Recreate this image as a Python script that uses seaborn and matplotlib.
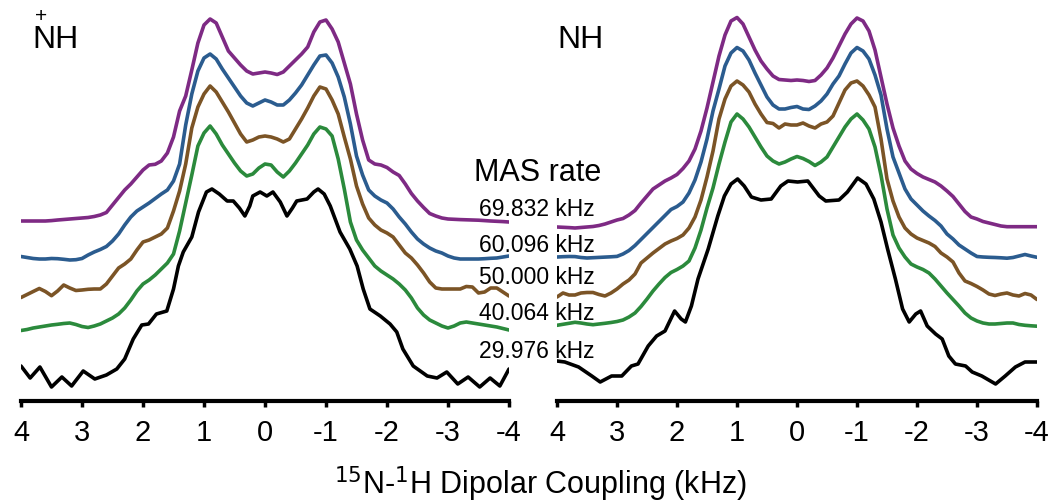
import numpy as np
import pandas as pd
import matplotlib
matplotlib.use("Agg")
import matplotlib.pyplot as plt
import seaborn as sns

# ---------------- data ----------------
# shared frequency grid (kHz) for the smooth traces
x_grid = [round(4 - 0.1 * i, 1) for i in range(81)]

rates = ["69.832 kHz", "60.096 kHz", "50.000 kHz", "40.064 kHz", "29.976 kHz"]
trace_names = ["purple", "blue", "brown", "green", "black"]

# NH+ (left panel) intensities (arbitrary units, relative to each trace baseline)
left_purple = [0, 0, 0, 0, 0, 0.4, 1, 1.5, 2, 2.5,
               3, 3.5, 4.5, 6, 8.5, 16, 23.5, 31, 37, 44,
               51, 56, 56.7, 60, 68, 84, 110, 125, 151, 178,
               196, 202, 198, 184, 170, 163, 156, 150, 147, 148,
               149, 148, 146.5, 149, 155, 161, 167, 174, 189, 199,
               201, 192, 179, 158, 137, 107, 81, 61, 57, 56,
               53.5, 49, 45.5, 37, 27.5, 20, 13.5, 7.5, 5, 3,
               2, 1.7, 1.4, 1.2, 1, 0.8, 0.4, 0, -0.3, -0.6,
               -1]
left_blue = [0.5, -0.5, -1.5, -2, -2, -1.5, -1.7, -2.3, -3, -2.7,
             -1.5, 2, 5, 7.5, 10.5, 16, 23, 32, 40, 46,
             50, 54, 58.5, 63, 67, 76, 93, 132, 163, 186,
             199, 203, 198, 188, 179, 170, 161, 154, 151, 154,
             157, 155, 152, 152, 157, 164, 172, 182, 192, 201,
             202, 194, 180, 160, 133, 101, 82, 67, 61, 57,
             54, 48, 40, 33, 25, 18, 13, 9, 6, 4,
             1, -1, -2, -2, -2, -2, -1.7, -1.3, -1, 0,
             1]
left_brown = [-1.5, 1.5, 4.5, 7.5, 4.5, 0.3, 5, 11, 8, 5.5,
              6, 6.7, 7, 7, 12, 20, 28, 32, 37, 46,
              54, 56, 59, 62, 68, 85, 105, 132, 168, 189,
              202, 210, 204, 194, 184, 173, 162, 154, 156, 159,
              160, 159, 157, 154, 157, 167, 177, 188, 200, 209,
              207, 196, 182, 159, 137, 110, 92, 78, 71, 66,
              63, 59, 51, 43, 38, 31, 23, 14, 8, 7,
              7, 7, 7, 9.5, 9, 3, 4, 8, 8, 4,
              0]
left_green = [-0.5, 0.5, 2, 3, 4, 5, 5.7, 6.5, 7, 5.5,
              3.5, 2.5, 4, 6, 9, 12, 16, 22, 30, 39,
              46, 50, 55, 61, 67, 76, 99, 127, 155, 184,
              197, 204, 196, 185, 176, 167, 159, 154, 156, 162,
              166, 165, 158, 153, 159, 167, 176, 185, 196, 203,
              201, 194, 171, 141, 108, 90, 80, 72, 64, 59,
              55, 51, 46, 40, 32, 22, 15, 10, 7, 4,
              2, 4, 7, 8, 7, 6, 5, 4, 3, 1.5,
              0]
left_black_x = [4.0, 3.85, 3.69, 3.5, 3.33, 3.17, 2.98, 2.79, 2.6, 2.43,
                2.3, 2.16, 2.02, 1.91, 1.78, 1.61, 1.5, 1.42, 1.34, 1.2,
                1.09, 0.96, 0.87, 0.75, 0.62, 0.52, 0.42, 0.33, 0.25, 0.2,
                0.08, -0.03, -0.13, -0.25, -0.36, -0.45, -0.52, -0.69, -0.8, -0.87,
                -0.97, -1.07, -1.23, -1.39, -1.51, -1.61, -1.72, -1.89, -2.05, -2.16,
                -2.26, -2.43, -2.66, -2.82, -2.98, -3.16, -3.33, -3.52, -3.69, -3.85,
                -4.0]
left_black_y = [8, -4, 7, -13, -3, -12, 3, -5, -1, 5,
                15, 35, 49, 50, 60, 63, 85, 108, 122, 137,
                162, 182, 185, 180, 173, 173, 166, 158, 168, 178,
                182, 178, 182, 172, 158, 166, 173, 175, 182, 185,
                180, 168, 142, 125, 108, 85, 65, 58, 50, 42,
                25, 8, -2, -4, 2, -10, -3, -13, -4, -12,
                5]

# NH (right panel)
right_purple = [0, -0.3, -0.6, -1, -0.5, 0, 0.5, 1.5, 3, 5,
                7, 8.5, 12, 16.5, 24, 31, 38, 42, 46, 49,
                52.5, 58.5, 66, 78, 96, 119, 145, 171, 192, 206,
                209.5, 203, 190, 177, 166, 158, 151, 147.5, 147, 146.5,
                147, 146.5, 145.5, 146.5, 152, 159, 169, 181, 193, 203,
                209, 206, 196, 177, 150, 123, 99, 81, 66, 58,
                53.5, 50, 47.5, 45, 41, 36, 30.5, 23, 15.5, 10,
                8, 5.5, 4, 2.5, 1, 0.3, 0.3, 0.3, 0.3, 0.3,
                0.3]
right_blue = [0, 0.3, 0.5, 0.4, -0.5, -1, -0.7, -0.4, -0.1, 0.2,
              0.6, 3, 6.5, 11.5, 17.5, 23.5, 29.5, 35.5, 41.5, 47.5,
              50.5, 55, 64, 77, 95, 118, 146, 168, 191, 204,
              209.5, 206, 197, 184, 172, 160, 152, 148, 148, 149.5,
              150.5, 148, 147.5, 151, 156, 163, 173, 181, 193, 204,
              209.5, 206, 198, 182, 162, 128, 100, 84, 68, 58,
              52, 46, 41, 36.5, 31, 23, 18, 12, 8, 4,
              0.5, 0, -0.3, -0.5, -0.8, -1.2, -0.5, 1, 2.5, 1,
              -0.3]
right_brown = [2, 6, 4, 4, 6, 6.5, 6.5, 4.5, 3, 6,
               10, 15, 19, 25, 36, 41, 46, 50.5, 55, 58,
               60.5, 64, 71, 82, 99, 122, 148, 180, 200, 213,
               218, 214, 207, 195, 185, 176.5, 175.5, 171, 175, 174,
               174, 176, 173, 171, 175, 177, 183, 196, 209, 216,
               218, 213, 204, 192, 160, 120, 98, 82, 71, 65,
               61, 58.5, 56, 52.5, 46, 42, 37, 26, 18, 15.5,
               12.5, 9, 5, 3.5, 5, 6, 4, 3, 5.5, 4,
               -0.5]
right_green = [0.7, 1.7, 2.7, 3.7, 3, 2, 1.3, 2, 2.7, 3.5,
               4.5, 6, 9, 13, 19.5, 27, 35, 42, 48.5, 53.5,
               56.5, 60, 65, 78, 96, 118, 138, 162, 184, 204,
               212, 207, 199, 189, 179, 170, 165, 162, 164, 167,
               169.5, 167.5, 164.5, 160.5, 164, 169, 179, 189, 199, 207,
               212, 206, 197, 179, 151, 117, 91, 78, 69, 62,
               59, 56.5, 53, 47, 40, 33, 26.5, 20, 13, 8,
               5, 3, 2, 2, 2.5, 3, 3, 1.5, 0.7, 0.2,
               -0.2]
right_black_x = [4.0, 3.87, 3.64, 3.42, 3.28, 3.09, 2.92, 2.76, 2.65, 2.48,
                 2.34, 2.2, 2.04, 1.93, 1.86, 1.76, 1.65, 1.48, 1.32, 1.21,
                 1.1, 0.99, 0.88, 0.76, 0.6, 0.43, 0.27, 0.15, -0.01, -0.18,
                 -0.37, -0.48, -0.7, -0.84, -1.01, -1.15, -1.28, -1.4, -1.51, -1.64,
                 -1.76, -1.87, -1.98, -2.06, -2.17, -2.31, -2.42, -2.53, -2.64, -2.81,
                 -2.92, -3.08, -3.31, -3.47, -3.64, -3.8, -4.0]
right_black_y = [1, 0, -5, -14, -20, -14, -14, -4, -2, 16,
                 26, 31, 51, 43, 40, 56, 83, 113, 146, 166,
                 178, 183, 176, 165, 162, 163, 176, 181, 180, 181,
                 166, 161, 162, 170, 184, 178, 163, 140, 113, 83,
                 53, 40, 48, 51, 36, 28, 23, 6, -2, -4,
                 -10, -14, -22, -14, -5, 0, 0]

# ---------------- styling ----------------
colors = {"purple": "#7e2a84", "blue": "#2b5c8f", "brown": "#7b5426",
          "green": "#2b8a3c", "black": "#000000"}
left_offsets = {"purple": 180, "blue": 144, "brown": 105, "green": 71, "black": 27}
right_offsets = {"purple": 174, "blue": 144, "brown": 102, "green": 75, "black": 39}

sns.set_theme(style="white")
plt.rcParams["font.family"] = ["Liberation Sans", "DejaVu Sans"]
plt.rcParams["axes.unicode_minus"] = False
plt.rcParams["text.color"] = "black"
plt.rcParams["xtick.color"] = "black"
plt.rcParams["xtick.labelcolor"] = "black"


def build(series, black_x, black_y, offsets):
    frames = []
    for name in trace_names:
        if name == "black":
            xs, ys = black_x, black_y
        else:
            xs, ys = x_grid, series[name]
        frames.append(pd.DataFrame({"x": xs,
                                    "y": np.array(ys, float) + offsets[name],
                                    "trace": name}))
    return pd.concat(frames, ignore_index=True)


left_df = build({"purple": left_purple, "blue": left_blue, "brown": left_brown,
                 "green": left_green}, left_black_x, left_black_y, left_offsets)
right_df = build({"purple": right_purple, "blue": right_blue, "brown": right_brown,
                  "green": right_green}, right_black_x, right_black_y, right_offsets)

W, H = 1053, 502
fig = plt.figure(figsize=(W / 100, H / 100), dpi=100)
ax1 = fig.add_axes([21 / W, 100 / H, 488 / W, 402 / H])
ax2 = fig.add_axes([557 / W, 100 / H, 480 / W, 402 / H])

for ax, df in ((ax1, left_df), (ax2, right_df)):
    sns.lineplot(data=df, x="x", y="y", hue="trace", palette=colors,
                 hue_order=trace_names, sort=False, estimator=None,
                 legend=False, linewidth=2.6, ax=ax,
                 solid_joinstyle="round", solid_capstyle="round")
    ax.set_xlim(4, -4)
    ax.set_ylim(0, 402)
    ax.set_xticks([4, 3, 2, 1, 0, -1, -2, -3, -4])
    ax.set_xticklabels(["4", "3", "2", "1", "0", "-1", "-2", "-3", "-4"])
    ax.set_yticks([])
    ax.set_xlabel("")
    ax.set_ylabel("")
    for s in ("left", "right", "top"):
        ax.spines[s].set_visible(False)
    ax.spines["bottom"].set_linewidth(3)
    ax.spines["bottom"].set_color("black")
    ax.tick_params(axis="x", direction="out", length=4, width=2.5,
                   color="black", labelcolor="black", labelsize=21, pad=8,
                   bottom=True)
    ax.patch.set_alpha(0)

# panel labels
fig.text(32 / W, 1 - 40 / H, "NH", fontsize=23, va="center", ha="left", color="black")
fig.text(41 / W, 1 - 16 / H, "+", fontsize=15, va="center", ha="center", color="black")
fig.text(557 / W, 1 - 40 / H, "NH", fontsize=23, va="center", ha="left", color="black")

# MAS rate legend
fig.text(538 / W, 1 - 173 / H, "MAS rate", fontsize=22, va="center", ha="center",
         color="black")
for label, ypx in zip(rates, [210, 245, 278, 313, 351]):
    fig.text(537 / W, 1 - ypx / H, label, fontsize=16.5, va="center", ha="center",
             color="black")

fig.text(540 / W, 1 - 484 / H, "$^{15}$N-$^{1}$H Dipolar Coupling (kHz)",
         fontsize=22, va="center", ha="center", color="black")

fig.savefig("out.png", dpi=100)
